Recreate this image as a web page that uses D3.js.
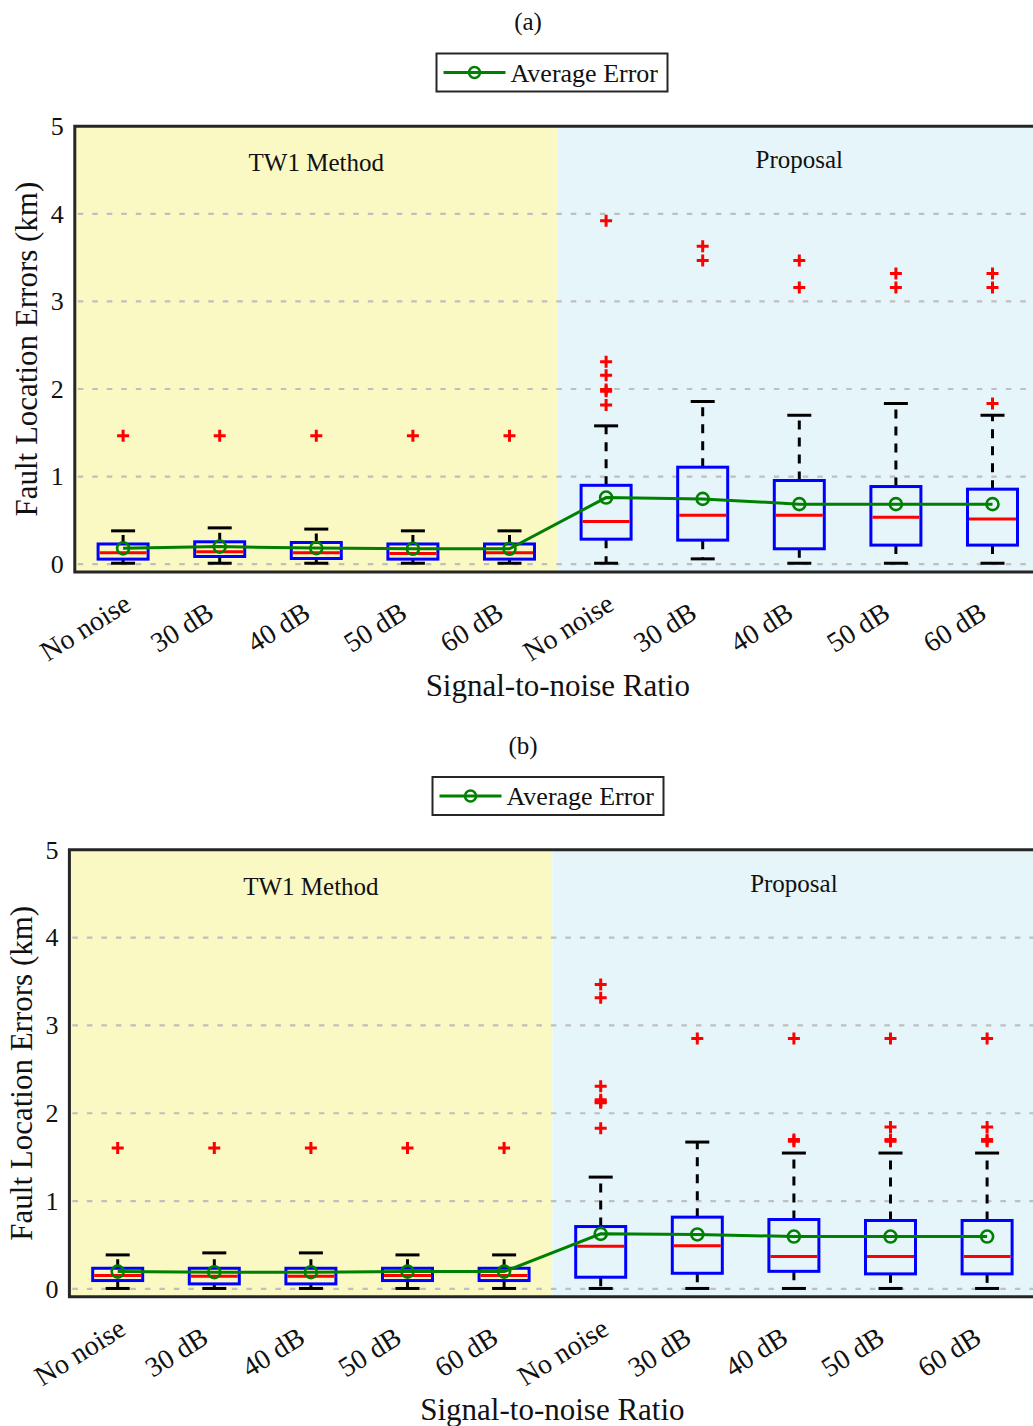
<!DOCTYPE html>
<html>
<head>
<meta charset="utf-8">
<script src="https://cdn.jsdelivr.net/npm/d3@7"></script>
<style>
  html, body { margin: 0; padding: 0; background: #ffffff; }
  svg { display: block; }
  text { font-family: "Liberation Serif", "Times New Roman", serif; fill: #111; }
</style>
</head>
<body>
<svg id="chart" width="1033" height="1426"></svg>
<script>
// Categories along the x axis (two methods, five noise levels each)
const categories = ["No noise", "30 dB", "40 dB", "50 dB", "60 dB",
                    "No noise", "30 dB", "40 dB", "50 dB", "60 dB"];
const methods = ["TW1 Method", "Proposal"];
const yTicks = [0, 1, 2, 3, 4, 5];

// Panel (a) box statistics (km)
const aLowerWhisker = [0.01, 0.01, 0.01, 0.01, 0.01, 0.01, 0.06, 0.01, 0.01, 0.01];
const aQ1           = [0.057, 0.087, 0.064, 0.057, 0.057, 0.285, 0.274, 0.175, 0.217, 0.217];
const aMedian       = [0.13, 0.14, 0.129, 0.121, 0.129, 0.486, 0.559, 0.559, 0.536, 0.514];
const aQ3           = [0.23, 0.255, 0.247, 0.23, 0.23, 0.90, 1.107, 0.955, 0.886, 0.856];
const aUpperWhisker = [0.38, 0.414, 0.40, 0.38, 0.38, 1.579, 1.857, 1.70, 1.834, 1.70];
const aMean         = [0.18, 0.20, 0.183, 0.175, 0.175, 0.76, 0.745, 0.685, 0.685, 0.685];
const aOutliers = [
  [1.465], [1.465], [1.465], [1.465], [1.465],
  [3.92, 2.31, 2.157, 1.995, 1.975, 1.818],
  [3.63, 3.466],
  [3.466, 3.16],
  [3.32, 3.16],
  [3.32, 3.16, 1.834]
];

// Panel (b) box statistics (km)
const bLowerWhisker = [0.005, 0.005, 0.005, 0.005, 0.005, 0.005, 0.005, 0.005, 0.005, 0.005];
const bQ1           = [0.095, 0.057, 0.057, 0.095, 0.095, 0.133, 0.178, 0.20, 0.171, 0.171];
const bMedian       = [0.152, 0.144, 0.144, 0.152, 0.152, 0.486, 0.49, 0.368, 0.368, 0.37];
const bQ3           = [0.235, 0.235, 0.235, 0.235, 0.235, 0.71, 0.817, 0.79, 0.779, 0.779];
const bUpperWhisker = [0.387, 0.41, 0.41, 0.387, 0.387, 1.273, 1.672, 1.547, 1.547, 1.547];
const bMean         = [0.197, 0.19, 0.19, 0.197, 0.197, 0.627, 0.62, 0.596, 0.596, 0.596];
const bOutliers = [
  [1.603], [1.603], [1.603], [1.603], [1.603],
  [3.466, 3.314, 2.307, 2.155, 2.13, 2.12, 1.828],
  [2.85],
  [2.85, 1.70, 1.68],
  [2.85, 1.843, 1.70, 1.68],
  [2.85, 1.843, 1.70, 1.68]
];

const svg = d3.select("#chart");

function drawPanel(cfg) {
  const x = d3.scaleLinear().domain([0.5, 10.5]).range([cfg.left, cfg.left + 966]);
  const y = d3.scaleLinear().domain([-0.09, 5]).range([cfg.bottom, cfg.top]);
  const g = svg.append("g");

  // Title
  g.append("text").attr("x", cfg.titleX).attr("y", cfg.titleY)
    .attr("text-anchor", "middle").attr("font-size", 25).text(cfg.title);

  // Legend
  const lg = g.append("g").attr("transform", `translate(${cfg.legendX},${cfg.legendY})`);
  lg.append("rect").attr("x", 0).attr("y", 0).attr("width", 231).attr("height", 38)
    .attr("fill", "#fff").attr("stroke", "#262626").attr("stroke-width", 2);
  lg.append("line").attr("x1", 7).attr("x2", 69).attr("y1", 19).attr("y2", 19)
    .attr("stroke", "#008000").attr("stroke-width", 3);
  lg.append("circle").attr("cx", 38).attr("cy", 19).attr("r", 5.5)
    .attr("fill", "none").attr("stroke", "#008000").attr("stroke-width", 2.5);
  lg.append("text").attr("x", 74).attr("y", 28).attr("font-size", 26).text("Average Error");

  // Shaded method regions
  g.append("rect").attr("x", x(0.5)).attr("y", y(5)).attr("width", x(5.5) - x(0.5))
    .attr("height", y(-0.09) - y(5)).attr("fill", "#faf8c3");
  g.append("rect").attr("x", x(5.5)).attr("y", y(5)).attr("width", x(10.5) - x(5.5))
    .attr("height", y(-0.09) - y(5)).attr("fill", "#e6f5fa");

  // Horizontal grid
  g.append("g").selectAll("line").data(yTicks.filter(t => t < 5)).join("line")
    .attr("x1", x(0.5) + 3).attr("x2", x(10.5))
    .attr("y1", d => y(d)).attr("y2", d => y(d))
    .attr("stroke", "#bfbfbf").attr("stroke-width", 2.2).attr("stroke-dasharray", "5.5,9");

  // Region labels
  g.selectAll("text.method").data(methods).join("text").attr("class", "method")
    .attr("x", (d, i) => x(3 + 5 * i)).attr("y", (d, i) => y(i === 0 ? 4.49 : 4.52))
    .attr("text-anchor", "middle").attr("font-size", 25).text(d => d);

  const idx = d3.range(categories.length);
  const boxW = 50, capW = 24;

  // Whiskers
  const wg = g.append("g");
  wg.selectAll("line.upper").data(idx).join("line").attr("class", "upper")
    .attr("x1", i => x(i + 1)).attr("x2", i => x(i + 1))
    .attr("y1", i => y(cfg.q3[i])).attr("y2", i => y(cfg.upper[i]))
    .attr("stroke", "#000").attr("stroke-width", 3).attr("stroke-dasharray", "9,8");
  wg.selectAll("line.lower").data(idx).join("line").attr("class", "lower")
    .attr("x1", i => x(i + 1)).attr("x2", i => x(i + 1))
    .attr("y1", i => y(cfg.q1[i])).attr("y2", i => y(cfg.lower[i]))
    .attr("stroke", "#000").attr("stroke-width", 3).attr("stroke-dasharray", "9,8");
  wg.selectAll("line.capU").data(idx).join("line").attr("class", "capU")
    .attr("x1", i => x(i + 1) - capW / 2).attr("x2", i => x(i + 1) + capW / 2)
    .attr("y1", i => y(cfg.upper[i])).attr("y2", i => y(cfg.upper[i]))
    .attr("stroke", "#000").attr("stroke-width", 3);
  wg.selectAll("line.capL").data(idx).join("line").attr("class", "capL")
    .attr("x1", i => x(i + 1) - capW / 2).attr("x2", i => x(i + 1) + capW / 2)
    .attr("y1", i => y(cfg.lower[i])).attr("y2", i => y(cfg.lower[i]))
    .attr("stroke", "#000").attr("stroke-width", 3);

  // Boxes
  g.append("g").selectAll("rect").data(idx).join("rect")
    .attr("x", i => x(i + 1) - boxW / 2).attr("width", boxW)
    .attr("y", i => y(cfg.q3[i])).attr("height", i => y(cfg.q1[i]) - y(cfg.q3[i]))
    .attr("fill", "none").attr("stroke", "#0000ff").attr("stroke-width", 3);

  // Medians
  g.append("g").selectAll("line").data(idx).join("line")
    .attr("x1", i => x(i + 1) - boxW / 2 + 1.5).attr("x2", i => x(i + 1) + boxW / 2 - 1.5)
    .attr("y1", i => y(cfg.median[i])).attr("y2", i => y(cfg.median[i]))
    .attr("stroke", "#ff0000").attr("stroke-width", 3);

  // Outliers
  const pts = idx.flatMap(i => cfg.outliers[i].map(v => ({ i, v })));
  g.append("g").selectAll("path").data(pts).join("path")
    .attr("d", d => {
      const cx = x(d.i + 1), cy = y(d.v), s = 6;
      return `M${cx - s},${cy}H${cx + s}M${cx},${cy - s}V${cy + s}`;
    })
    .attr("stroke", "#ff0000").attr("stroke-width", 3).attr("fill", "none");

  // Mean line with circle markers
  const line = d3.line().x(i => x(i + 1)).y(i => y(cfg.mean[i]));
  g.append("path").datum(idx).attr("d", line)
    .attr("fill", "none").attr("stroke", "#008000").attr("stroke-width", 3);
  g.append("g").selectAll("circle").data(idx).join("circle")
    .attr("cx", i => x(i + 1)).attr("cy", i => y(cfg.mean[i])).attr("r", 6)
    .attr("fill", "none").attr("stroke", "#008000").attr("stroke-width", 2.6);

  // Axis frame (left, top, bottom)
  g.append("path")
    .attr("d", `M${x(10.5) + 5},${y(5)}H${x(0.5)}V${y(-0.09)}H${x(10.5) + 5}`)
    .attr("fill", "none").attr("stroke", "#262626").attr("stroke-width", 3);

  // Y tick labels
  g.append("g").selectAll("text").data(yTicks).join("text")
    .attr("x", x(0.5) - 11).attr("y", d => y(d)).attr("dy", "0.34em")
    .attr("text-anchor", "end").attr("font-size", 26).text(d => d);

  // X tick labels (rotated, centred below and left of each tick)
  g.append("g").selectAll("text").data(idx).join("text")
    .attr("text-anchor", "middle").attr("font-size", 28).attr("dy", "0.35em")
    .attr("transform", i => `translate(${x(i + 1) - 38},${y(-0.09) + 55}) rotate(-32)`)
    .text(i => categories[i]);

  // Axis titles
  g.append("text").attr("text-anchor", "middle").attr("font-size", 31)
    .attr("transform", `translate(${cfg.ylabelX},${(y(5) + y(-0.09)) / 2}) rotate(-90)`)
    .attr("dy", "0.33em").text("Fault Location Errors (km)");
  g.append("text").attr("text-anchor", "middle").attr("font-size", 31)
    .attr("x", (x(0.5) + x(10.5)) / 2).attr("y", cfg.xlabelY).text("Signal-to-noise Ratio");
}

drawPanel({
  title: "(a)", titleX: 528, titleY: 30, legendX: 436.5, legendY: 53.5,
  left: 74.8, top: 126.3, bottom: 572, ylabelX: 27, xlabelY: 696,
  lower: aLowerWhisker, q1: aQ1, median: aMedian, q3: aQ3, upper: aUpperWhisker,
  mean: aMean, outliers: aOutliers
});

drawPanel({
  title: "(b)", titleX: 523, titleY: 754, legendX: 432.5, legendY: 777,
  left: 69.4, top: 849.8, bottom: 1296.8, ylabelX: 22, xlabelY: 1420,
  lower: bLowerWhisker, q1: bQ1, median: bMedian, q3: bQ3, upper: bUpperWhisker,
  mean: bMean, outliers: bOutliers
});
</script>
</body>
</html>
